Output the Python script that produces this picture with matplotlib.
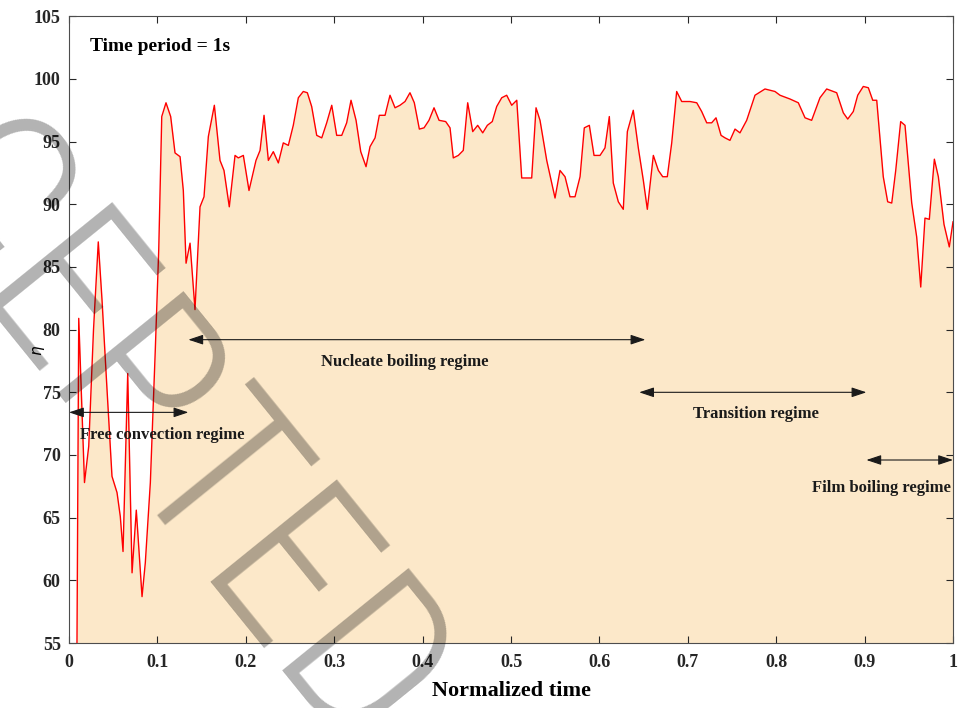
import numpy as np
import matplotlib
matplotlib.use("Agg")
import matplotlib.pyplot as plt

# normalised time and efficiency eta
t = [0.0090, 0.0110, 0.0175, 0.0223, 0.0277, 0.0331, 0.0373, 0.0430, 0.0486, 0.0543,
     0.0580, 0.0611, 0.0664, 0.0713, 0.0761, 0.0826, 0.0863, 0.0920, 0.0976, 0.1015,
     0.1049, 0.1097, 0.1150, 0.1199, 0.1256, 0.1293, 0.1324, 0.1369, 0.1425, 0.1482,
     0.1527, 0.1576, 0.1644, 0.1708, 0.1753, 0.1813, 0.1878, 0.1915, 0.1972, 0.2036,
     0.2115, 0.2161, 0.2206, 0.2255, 0.2311, 0.2368, 0.2424, 0.2481, 0.2537, 0.2594,
     0.2650, 0.2696, 0.2745, 0.2802, 0.2859, 0.2915, 0.2972, 0.3028, 0.3085, 0.3141,
     0.3190, 0.3247, 0.3300, 0.3360, 0.3405, 0.3462, 0.3510, 0.3575, 0.3631, 0.3688,
     0.3744, 0.3801, 0.3857, 0.3906, 0.3963, 0.4016, 0.4072, 0.4129, 0.4186, 0.4261,
     0.4310, 0.4347, 0.4404, 0.4460, 0.4510, 0.4567, 0.4623, 0.4680, 0.4732, 0.4788,
     0.4838, 0.4895, 0.4951, 0.5008, 0.5065, 0.5121, 0.5234, 0.5283, 0.5328, 0.5404,
     0.5498, 0.5554, 0.5611, 0.5667, 0.5724, 0.5781, 0.5829, 0.5886, 0.5939, 0.6007,
     0.6063, 0.6112, 0.6157, 0.6214, 0.6270, 0.6316, 0.6383, 0.6440, 0.6497, 0.6542,
     0.6610, 0.6667, 0.6716, 0.6768, 0.6818, 0.6874, 0.6931, 0.7025, 0.7101, 0.7157,
     0.7214, 0.7270, 0.7319, 0.7376, 0.7421, 0.7477, 0.7534, 0.7590, 0.7666, 0.7760,
     0.7873, 0.7986, 0.8043, 0.8156, 0.8250, 0.8326, 0.8401, 0.8495, 0.8571, 0.8684,
     0.8759, 0.8809, 0.8872, 0.8922, 0.8985, 0.9042, 0.9092, 0.9137, 0.9211, 0.9261,
     0.9307, 0.9352, 0.9408, 0.9457, 0.9533, 0.9589, 0.9635, 0.9683, 0.9732, 0.9789,
     0.9834, 0.9898, 0.9958, 1.0000]
eta = [55.0, 80.9, 67.8, 70.7, 80.0, 87.0, 82.4, 75.2, 68.3, 67.0,
       65.1, 62.3, 76.5, 60.6, 65.6, 58.7, 61.4, 67.8, 78.4, 86.4,
       97.0, 98.1, 97.0, 94.1, 93.8, 91.1, 85.3, 86.9, 81.6, 89.8,
       90.6, 95.4, 97.9, 93.5, 92.7, 89.8, 93.9, 93.7, 93.9, 91.1,
       93.5, 94.3, 97.1, 93.5, 94.2, 93.3, 94.9, 94.7, 96.3, 98.5,
       99.0, 98.9, 97.8, 95.5, 95.3, 96.5, 97.9, 95.5, 95.5, 96.5,
       98.3, 96.7, 94.2, 93.0, 94.6, 95.3, 97.1, 97.1, 98.7, 97.7,
       97.9, 98.2, 98.9, 98.1, 96.0, 96.1, 96.7, 97.7, 96.7, 96.6,
       96.1, 93.7, 93.9, 94.3, 98.1, 95.8, 96.3, 95.7, 96.3, 96.6,
       97.8, 98.5, 98.7, 97.9, 98.3, 92.1, 92.1, 97.7, 96.7, 93.5,
       90.5, 92.7, 92.2, 90.6, 90.6, 92.2, 96.1, 96.3, 93.9, 93.9,
       94.5, 97.0, 91.7, 90.2, 89.6, 95.8, 97.5, 94.5, 91.9, 89.6,
       93.9, 92.7, 92.2, 92.2, 94.9, 99.0, 98.2, 98.2, 98.1, 97.4,
       96.5, 96.5, 96.9, 95.5, 95.3, 95.1, 96.0, 95.7, 96.7, 98.7,
       99.2, 99.0, 98.7, 98.4, 98.1, 96.9, 96.7, 98.5, 99.2, 98.9,
       97.3, 96.8, 97.4, 98.7, 99.4, 99.3, 98.3, 98.3, 92.2, 90.2,
       90.1, 92.7, 96.6, 96.3, 90.1, 87.4, 83.4, 88.9, 88.8, 93.6,
       92.2, 88.4, 86.6, 88.6]

# boiling regimes: name, start, end, arrow height
regimes = ["Free convection regime", "Nucleate boiling regime",
           "Transition regime", "Film boiling regime"]
reg_start = [0.0, 0.135, 0.645, 0.902]
reg_end = [0.135, 0.652, 0.902, 1.0]
reg_arrow_y = [73.4, 79.2, 75.0, 69.6]
reg_text_x = [0.105, 0.38, 0.777, 0.919]
reg_text_y = [71.6, 77.4, 73.3, 67.4]

xticks = [0, 0.1, 0.2, 0.3, 0.4, 0.5, 0.6, 0.7, 0.8, 0.9, 1]
xticklabels = ["0", "0.1", "0.2", "0.3", "0.4", "0.5", "0.6", "0.7", "0.8", "0.9", "1"]
yticks = [55, 60, 65, 70, 75, 80, 85, 90, 95, 100, 105]

plt.rcParams["font.family"] = ["Liberation Serif", "DejaVu Serif"]

fig = plt.figure(figsize=(9.64, 7.08), dpi=100)
ax = fig.add_axes([0.0716, 0.0918, 0.917, 0.8852])

ax.fill_between(t, eta, 55, color="#FCE8C9", lw=0)
ax.plot(t, eta, color="red", lw=1.0)

ax.set_xlim(0, 1)
ax.set_ylim(55, 105)
ax.set_xticks(xticks)
ax.set_xticklabels(xticklabels)
ax.set_yticks(yticks)
ax.tick_params(direction="in", length=5, width=0.8, top=True, right=True,
               labelsize=13, colors="0.15")
ax.tick_params(axis="x", pad=8)
ax.tick_params(axis="y", pad=6)
for lab in ax.get_xticklabels() + ax.get_yticklabels():
    lab.set_fontweight("bold")
for s in ax.spines.values():
    s.set_color("0.3")
    s.set_linewidth(0.8)

ax.set_xlabel("Normalized time", fontsize=16, fontweight="bold", labelpad=7)
ax.set_ylabel(r"$\eta$", fontsize=11)
ax.yaxis.set_label_coords(-0.025, 0.467)

ax.text(0.024, 102.55, "Time period = 1s", fontsize=14, fontweight="bold",
        va="center", ha="left")

for name, x0, x1, ya, xt, yt in zip(regimes, reg_start, reg_end, reg_arrow_y,
                                    reg_text_x, reg_text_y):
    ax.annotate("", xy=(x1, ya), xytext=(x0, ya),
                arrowprops=dict(arrowstyle="<|-|>,head_length=0.9,head_width=0.3",
                                color="0.1", lw=0.8, shrinkA=0, shrinkB=0))
    ax.text(xt, yt, name, fontsize=12, fontweight="bold", ha="center",
            va="center", color="0.1")

# diagonal watermark over the left part of the figure
fig.text(0.0415, 0.466, "ACCEPTED", fontsize=165, rotation=-51,
         rotation_mode="anchor", ha="center", va="baseline",
         family=["Roboto Condensed", "Liberation Sans Narrow", "Roboto"],
         fontweight="light", color="black", alpha=0.3)

fig.savefig("out.png", dpi=100)
